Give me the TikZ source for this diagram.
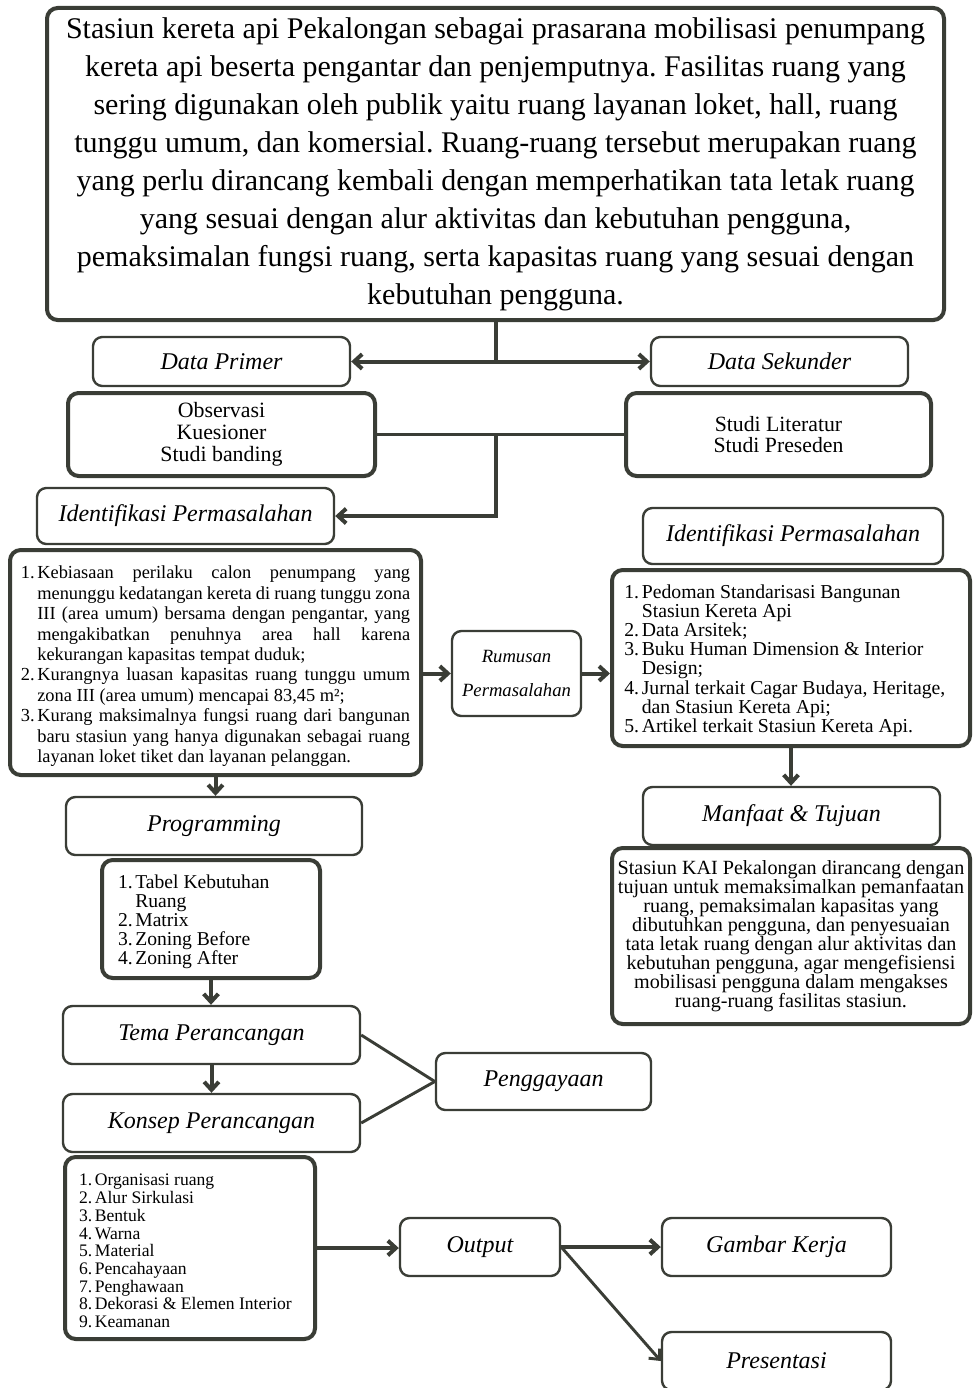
\documentclass[tikz,border=0pt]{standalone}
\usepackage{fontspec}
\setmainfont{Liberation Serif}
\usepackage{enumitem}
\usetikzlibrary{arrows.meta, positioning}
\definecolor{inkgray}{RGB}{58, 61, 54}
\frenchspacing

\tikzset{
  titlebox/.style={draw=inkgray, line width=1.8pt, rounded corners=7pt, fill=white,
    font=\fontsize{18}{20}\selectfont\itshape, inner sep=2pt},
  listbox/.style={draw=inkgray, line width=3pt, rounded corners=8pt, fill=white, inner sep=0pt},
  flow/.style={draw=inkgray, line width=3pt, -{Straight Barb[length=6pt, width=11pt]}},
  link/.style={draw=inkgray, line width=2.6pt},
  thinlink/.style={draw=inkgray, line width=2.2pt},
}
\setlist[enumerate]{label=\arabic*., leftmargin=*, labelindent=0pt, labelsep=2pt, nosep}

\begin{document}
\begin{tikzpicture}[x=0.75pt, y=-0.75pt]
\useasboundingbox (0,0) rectangle (972,1388);

% latar belakang
\node[listbox, minimum width=672.75pt, minimum height=234pt, align=center,
  font=\fontsize{22.5}{28.5}\selectfont] (intro) at (495.5,164) {
  Stasiun kereta api Pekalongan sebagai prasarana mobilisasi penumpang\\
  kereta api beserta pengantar dan penjemputnya. Fasilitas ruang yang\\
  sering digunakan oleh publik yaitu ruang layanan loket, hall, ruang\\
  tunggu umum, dan komersial. Ruang-ruang tersebut merupakan ruang\\
  yang perlu dirancang kembali dengan memperhatikan tata letak ruang\\
  yang sesuai dengan alur aktivitas dan kebutuhan pengguna,\\
  pemaksimalan fungsi ruang, serta kapasitas ruang yang sesuai dengan\\
  kebutuhan pengguna.};

% pengumpulan data
\node[titlebox, minimum width=192.75pt, minimum height=36.75pt] (dprim) at (221.5,361.5) {Data Primer};
\node[titlebox, minimum width=192.75pt, minimum height=36.75pt] (dsek) at (779.5,361.5) {Data Sekunder};
\node[listbox, minimum width=230.25pt, minimum height=62.25pt, align=center,
  font=\fontsize{16.4}{16.5}\selectfont] (obs) at (221.5,434.5) {Observasi\\Kuesioner\\Studi banding};
\node[listbox, minimum width=228.75pt, minimum height=62.25pt, align=center,
  font=\fontsize{16.3}{15.75}\selectfont] (lit) at (778.5,434.5) {Studi Literatur\\Studi Preseden};

% identifikasi
\node[titlebox, minimum width=222.75pt, minimum height=42pt] (idl) at (185.5,516) {Identifikasi Permasalahan};
\node[titlebox, minimum width=225pt, minimum height=42pt] (idr) at (793,536) {Identifikasi Permasalahan};

\node[listbox, minimum width=308.25pt, minimum height=168.75pt, text width=292pt, align=justify,
  font=\fontsize{13.8}{15.3}\selectfont] (masalah) at (215.5,662.5) {%
  \hyphenpenalty=10000
  \begin{enumerate}
    \item Kebiasaan perilaku calon penumpang yang\linebreak menunggu kedatangan kereta di ruang tunggu zona\linebreak III (area umum) bersama dengan pengantar, yang\linebreak mengakibatkan penuhnya area hall karena\linebreak kekurangan kapasitas tempat duduk;
    \item Kurangnya luasan kapasitas ruang tunggu umum\linebreak zona III (area umum) mencapai 83,45 m²;
    \item Kurang maksimalnya fungsi ruang dari bangunan\linebreak baru stasiun yang hanya digunakan sebagai ruang\linebreak layanan loket tiket dan layanan pelanggan.
  \end{enumerate}};

\node[titlebox, minimum width=96.75pt, minimum height=63.75pt, align=center,
  font=\fontsize{14}{26}\selectfont\itshape] (rumus) at (516.5,673.5) {Rumusan\\Permasalahan};

\node[listbox, minimum width=268.5pt, minimum height=132pt, text width=250pt, align=flush left,
  font=\fontsize{14.8}{14.3}\selectfont] (sumber) at (791,658) {%
  \begin{enumerate}
    \item Pedoman Standarisasi Bangunan\newline Stasiun Kereta Api
    \item Data Arsitek;
    \item Buku Human Dimension \& Interior\newline Design;
    \item Jurnal terkait Cagar Budaya, Heritage,\newline dan Stasiun Kereta Api;
    \item Artikel terkait Stasiun Kereta Api.
  \end{enumerate}};

% manfaat dan tujuan
\node[titlebox, minimum width=222.75pt, minimum height=43.5pt] (manf) at (791.5,816) {Manfaat \& Tujuan};
\node[listbox, minimum width=268.5pt, minimum height=132pt, align=center,
  font=\fontsize{15.1}{14.3}\selectfont] (tujuan) at (791,936) {
  Stasiun KAI Pekalongan dirancang dengan\\
  tujuan untuk memaksimalkan pemanfaatan\\
  ruang, pemaksimalan kapasitas yang\\
  dibutuhkan pengguna, dan penyesuaian\\
  tata letak ruang dengan alur aktivitas dan\\
  kebutuhan pengguna, agar mengefisiensi\\
  mobilisasi pengguna dalam mengakses\\
  ruang-ruang fasilitas stasiun.};

% programming
\node[titlebox, minimum width=222pt, minimum height=43.5pt] (prog) at (214,826) {Programming};
\node[listbox, minimum width=163.5pt, minimum height=88.5pt, text width=139.5pt, align=flush left,
  font=\fontsize{14.7}{14.3}\selectfont] (proglist) at (211,919) {%
  \begin{enumerate}
    \item Tabel Kebutuhan\newline Ruang
    \item Matrix
    \item Zoning Before
    \item Zoning After
  \end{enumerate}};

% perancangan
\node[titlebox, minimum width=222.75pt, minimum height=43.5pt] (tema) at (211.5,1035) {Tema Perancangan};
\node[titlebox, minimum width=222.75pt, minimum height=43.5pt] (konsep) at (211.5,1123) {Konsep Perancangan};
\node[titlebox, minimum width=161.25pt, minimum height=42.75pt] (gaya) at (543.5,1081.5) {Penggayaan};
\node[listbox, minimum width=187.5pt, minimum height=136.5pt, text width=166.5pt, align=flush left,
  font=\fontsize{13.2}{13.3}\selectfont] (konlist) at (190,1248) {%
  \begin{enumerate}
    \item Organisasi ruang
    \item Alur Sirkulasi
    \item Bentuk
    \item Warna
    \item Material
    \item Pencahayaan
    \item Penghawaan
    \item Dekorasi \& Elemen Interior
    \item Keamanan
  \end{enumerate}};

% hasil
\node[titlebox, minimum width=120pt, minimum height=43.5pt] (output) at (480,1247) {Output};
\node[titlebox, minimum width=171.75pt, minimum height=43.5pt] (gambar) at (776.5,1247) {Gambar Kerja};
\node[titlebox, minimum width=171.75pt, minimum height=43.5pt] (present) at (776.5,1361) {Presentasi};

% alur
\draw[draw=inkgray, line width=3pt] (intro.south) -- (intro.south |- dprim.east);
\draw[flow, {Straight Barb[length=6pt, width=11pt]}-{Straight Barb[length=6pt, width=11pt]}] (dprim.east) -- (dsek.west);
\draw[link] (obs.east) -- (lit.west);
\draw[flow] (intro.south |- obs.east) |- (idl.east);
\draw[flow] (masalah.east |- rumus.west) -- (rumus.west);
\draw[flow] (rumus.east) -- (rumus.east -| sumber.west);
\draw[flow] (sumber.south) -- (sumber.south |- manf.north);
\draw[flow] (masalah.south) -- (masalah.south |- prog.north);
\draw[flow] (proglist.south) -- (proglist.south |- tema.north);
\draw[flow] (tema.south) -- (konsep.north);
\draw[thinlink] (tema.east) -- (gaya.west);
\draw[thinlink] (konsep.east) -- (gaya.west);
\draw[flow] (konlist.east) -- (konlist.east -| output.west);
\draw[flow] (output.east) -- (gambar.west);
\draw[flow, line width=2.2pt] (output.east) -- (present.west);
\end{tikzpicture}
\end{document}
